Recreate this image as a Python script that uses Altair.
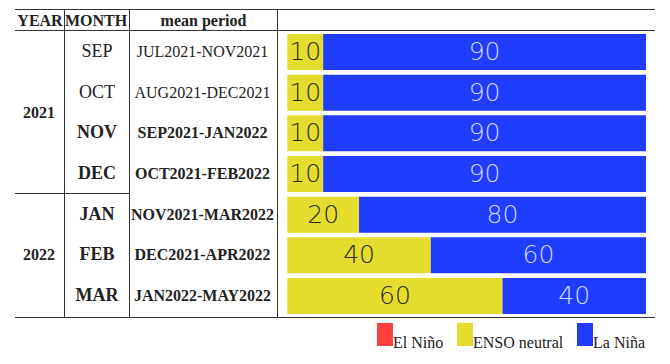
import altair as alt
import pandas as pd

# ---- data ----
years = ["2021", "2021", "2021", "2021", "2022", "2022", "2022"]
months = ["SEP", "OCT", "NOV", "DEC", "JAN", "FEB", "MAR"]
periods = ["JUL2021-NOV2021", "AUG2021-DEC2021", "SEP2021-JAN2022", "OCT2021-FEB2022",
           "NOV2021-MAR2022", "DEC2021-APR2022", "JAN2022-MAY2022"]
el_nino = [0, 0, 0, 0, 0, 0, 0]
enso_neutral = [10, 10, 10, 10, 20, 40, 60]
la_nina = [90, 90, 90, 90, 80, 60, 40]
categories = ["El Niño", "ENSO neutral", "La Niña"]
headers = ["YEAR", "MONTH", "mean period"]

# ---- build tables ----
rows = []
for i, m in enumerate(months):
    start = 0
    for cat, vals in zip(categories, [el_nino, enso_neutral, la_nina]):
        v = vals[i]
        rows.append(dict(row=i, month=m, cat=cat, value=v, start=start, end=start + v))
        start += v
bars_df = pd.DataFrame(rows)
table_df = pd.DataFrame(dict(row=list(range(len(months))), month=months, year=years, period=periods))

SERIF = "Liberation Serif"
LINE = "#333333"
light_months = ["SEP", "OCT"]

yscale = alt.Scale(domain=[-0.5, 6.5], range=[23.7, 308.3], nice=False, zero=False)
xscale = alt.Scale(domain=[0, 100], range=[279.3, 638], nice=False, zero=False)
color_scale = alt.Scale(domain=categories, range=["#FF4040", "#E6DC2E", "#203CFF"])

one = alt.Data(values=[{"a": 1}])


def hrule(y, x1, x2):
    return alt.Chart(one).mark_rule(color=LINE, strokeWidth=1).encode(
        x=alt.value(x1), x2=alt.value(x2), y=alt.value(y))


def vrule(x, y1, y2):
    return alt.Chart(one).mark_rule(color=LINE, strokeWidth=1).encode(
        x=alt.value(x), y=alt.value(y1), y2=alt.value(y2))


rules = [
    hrule(1.5, 7, 647), hrule(22.5, 7, 647), hrule(309.5, 7, 647), hrule(185.5, 7, 121.5),
    vrule(56.5, 1.5, 309.5), vrule(121.5, 1.5, 309.5), vrule(269.5, 1.5, 309.5),
]

bars = alt.Chart(bars_df).transform_filter("datum.value > 0").transform_calculate(
    y0="datum.row - 0.443", y1="datum.row + 0.443"
).mark_rect().encode(
    x=alt.X("start:Q", scale=xscale, axis=None),
    x2="end:Q",
    y=alt.Y("y0:Q", scale=yscale, axis=None),
    y2="y1:Q",
    color=alt.Color("cat:N", scale=color_scale, legend=alt.Legend(
        title=None, orient="none", legendX=369, legendY=318.5, direction="horizontal",
        symbolType="M-1,-1.4375H1V1.4375H-1Z", symbolSize=256, symbolStrokeWidth=0,
        symbolOpacity=1, labelFont=SERIF, labelFontSize=16, labelColor="#222222",
        labelOffset=0, columnPadding=13, labelBaseline="top", padding=0)),
)

bar_labels = alt.Chart(bars_df).transform_filter("datum.value > 0").transform_calculate(
    mid="(datum.start + datum.end) / 2"
).mark_text(font="DejaVu Sans", fontSize=25, baseline="middle", align="center", fontWeight=300).encode(
    x=alt.X("mid:Q", scale=xscale, axis=None),
    y=alt.Y("row:Q", scale=yscale, axis=None),
    text="value:Q",
    color=alt.condition("datum.cat == 'La Niña'", alt.value("#D4D9FF"), alt.value("#2A2A1C")),
)

header_x = [32, 88, 195.5]
header_layers = [
    alt.Chart(one).mark_text(font=SERIF, fontSize=16, fontWeight="bold", color="#222222",
                             baseline="alphabetic", align="center", text=h).encode(
        x=alt.value(hx), y=alt.value(18))
    for h, hx in zip(headers, header_x)
]

year_text = alt.Chart(table_df).transform_aggregate(
    row="mean(row)", groupby=["year"]
).mark_text(font=SERIF, fontSize=16, fontWeight="bold", color="#222222", baseline="middle",
            align="center").encode(
    x=alt.value(31), y=alt.Y("row:Q", scale=yscale, axis=None), text="year:N")

light_filter = alt.FieldOneOfPredicate(field="month", oneOf=light_months)

month_light = alt.Chart(table_df).transform_filter(light_filter).mark_text(
    font=SERIF, fontSize=18, color="#222222", baseline="middle", align="center").encode(
    x=alt.value(89), y=alt.Y("row:Q", scale=yscale, axis=None), text="month:N")
month_bold = alt.Chart(table_df).transform_filter(~light_filter).mark_text(
    font=SERIF, fontSize=18, fontWeight="bold", color="#222222", baseline="middle",
    align="center").encode(
    x=alt.value(89), y=alt.Y("row:Q", scale=yscale, axis=None), text="month:N")

period_light = alt.Chart(table_df).transform_filter(light_filter).mark_text(
    font=SERIF, fontSize=16, color="#222222", baseline="middle", align="center").encode(
    x=alt.value(194.5), y=alt.Y("row:Q", scale=yscale, axis=None), text="period:N")
period_bold = alt.Chart(table_df).transform_filter(~light_filter).mark_text(
    font=SERIF, fontSize=16, fontWeight="bold", color="#222222", baseline="middle",
    align="center").encode(
    x=alt.value(194.5), y=alt.Y("row:Q", scale=yscale, axis=None), text="period:N")

chart = alt.layer(
    bars, bar_labels, *rules, *header_layers, year_text, month_light, month_bold,
    period_light, period_bold
).properties(
    width=654, height=348, padding=0, autosize=alt.AutoSizeParams(type="none")
).configure_view(stroke=None)

chart.save("out.html", embed_options={"renderer": "svg", "actions": False})
